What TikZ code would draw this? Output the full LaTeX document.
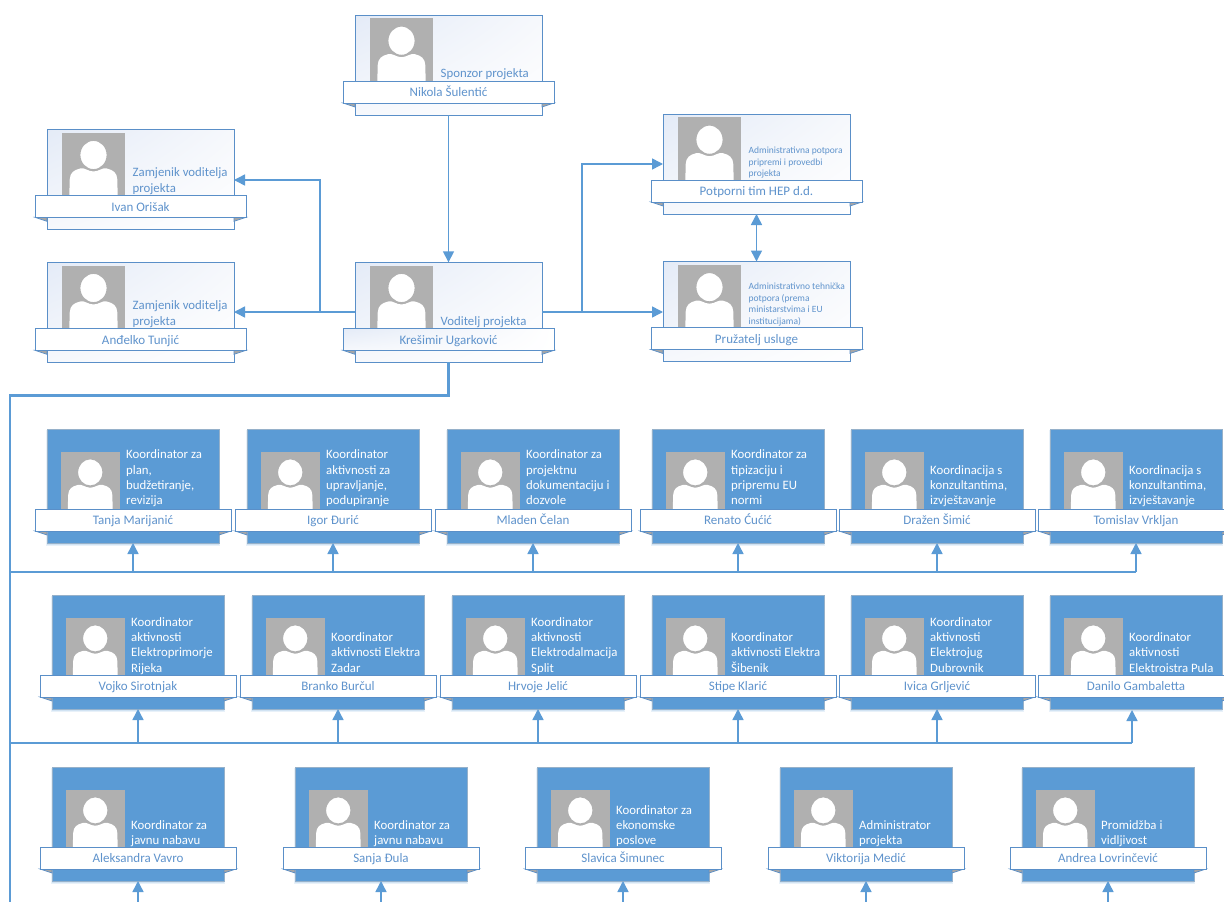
\documentclass[tikz,border=0pt]{standalone}
\usepackage{fontspec}
\setmainfont{Carlito}
\usetikzlibrary{arrows.meta,shadings}
\definecolor{hb}{HTML}{5B9BD5}
\definecolor{hbd}{HTML}{5A8FC8}
\definecolor{hbt}{HTML}{5F93CC}
\definecolor{gimg}{HTML}{B0B0B0}
\definecolor{hbl}{HTML}{E4EBF7}
\definecolor{hbm}{HTML}{F6F8FC}
\tikzset{
  x=1pt,y=-1pt,
  whitebox/.style={draw=hbd,line width=1pt,upper left=hbl,upper right=hbm,lower left=hbm,lower right=white,minimum width=187pt,minimum height=100pt,anchor=north west,inner sep=0pt,outer sep=0pt},
  bluebox/.style={draw=hb!60!gray!70,fill=hb,line width=0.8pt,minimum width=172pt,minimum height=114pt,anchor=north west,inner sep=0pt,outer sep=0pt},
  ribshade/.style={},
  ribbon/.style={draw=hbd,fill=white,ribshade,line width=1pt,minimum height=22pt,anchor=north west,inner sep=0pt,outer sep=0pt,text=hbt,font=\fontsize{13}{14}\selectfont,text height=9.5pt,text depth=0.5pt},
  capt/.style={anchor=south west,inner sep=0pt,align=left},
  capw/.style={capt,text=hbt},
  capb/.style={capt,text=white,font=\normfont},
  conn/.style={draw=hb,line width=1.5pt},
  busline/.style={draw=hb,line width=1.8pt},
  trunkline/.style={draw=hb,line width=2.4pt},
  arr/.style={conn,-{Triangle[length=11pt,width=11pt]}},
  darr/.style={conn,{Triangle[length=11pt,width=11pt]}-{Triangle[length=11pt,width=11pt]}},
  tail/.style={draw=hbd,fill=gray!70,line width=0.7pt},
}
\newcommand{\normfont}{\fontsize{12.8}{15.4}\selectfont}
\newcommand{\smallfont}{\fontsize{9.5}{11.5}\selectfont}
\newcommand{\lastdepth}{\rule[-4pt]{0pt}{4pt}}
\newcommand{\silhouette}[3]{%
  \pgfmathsetmacro{\pS}{#3/63}
  \begin{scope}[shift={(#1,#2)},x=\pS pt,y=-\pS pt]
    \fill[gimg] (0,0) rectangle (63,64);
    \fill[white] (7.3,64) -- (7.7,47) .. controls (8,40) and (12,37.5) .. (18,36)
      .. controls (23,34.8) and (26,39) .. (31.5,39)
      .. controls (37,39) and (40,34.8) .. (45,36)
      .. controls (51,37.5) and (55,40) .. (55.3,47) -- (55.7,64) -- cycle;
    \draw[gimg,fill=white,line width=1.4pt] (31.5,22.5) ellipse [x radius=13.8,y radius=14.8];
  \end{scope}}
% id, x, y, font, lines, name
\newcommand{\wcard}[6]{%
  \begin{scope}[shift={(#2,#3)}]
    \node[whitebox] (#1) at (0,0) {};
    \silhouette{15}{3.2}{63}
    \node[capw,font=#4] (#1t) at (85.5,67) {#5\lastdepth};
    \draw[tail] (-12,88) -- (0,92) -- (0,88) -- cycle;
    \draw[tail] (199,88) -- (187,92) -- (187,88) -- cycle;
    \node[ribbon,minimum width=211pt] (#1r) at (-12,66.3) {#6};
  \end{scope}}
% id, x, y, gap, lines, name
\newcommand{\bcard}[6]{%
  \begin{scope}[shift={(#2,#3)}]
    \fill[hb!14] (-1,1) rectangle (173,117);
    \fill[hb!28] (0,1) rectangle (172,115.5);
    \node[bluebox] (#1) at (0,0) {};
    \silhouette{14}{22.5}{58.5}
    \node[capb] (#1t) at (79,#4) {#5\lastdepth};
    \draw[tail] (-12,102) -- (0,106) -- (0,102) -- cycle;
    \draw[tail] (184,102) -- (172,106) -- (172,102) -- cycle;
    \node[ribbon,minimum width=196pt] (#1r) at (-12,80) {#6};
  \end{scope}}
\begin{document}
\begin{tikzpicture}
\useasboundingbox (0,0) rectangle (1224,902);
\clip (0,0) rectangle (1224,902);
\fill[white] (0,0) rectangle (1224,902);
% connector anchors
\coordinate (trunk) at (10,395.5);
\coordinate (trunkend) at (10,902);
\coordinate (busa) at (10,572);
\coordinate (busb) at (10,743);
\coordinate (busc) at (10,902);
\coordinate (lft) at (320,312);
\coordinate (rgt) at (582,312);
\coordinate (lfu) at (320,180);
\coordinate (rgu) at (582,164);
% cards
\wcard{sponsor}{355}{15}{\normfont}{Sponzor projekta}{Nikola Šulentić}
\wcard{zam}{47}{129.3}{\normfont}{Zamjenik voditelja\\projekta}{Ivan Orišak}
\wcard{tun}{47}{262.3}{\normfont}{Zamjenik voditelja\\projekta}{Anđelko Tunjić}
\begin{scope}[ribshade/.style={upper left=hbl,upper right=white,lower left=hbm,lower right=white}]
\wcard{vod}{355}{262.3}{\normfont}{Voditelj projekta}{Krešimir Ugarković}
\end{scope}
\wcard{hep}{663}{114}{\smallfont}{Administrativna potpora\\pripremi i provedbi\\projekta}{Potporni tim HEP d.d.}
\wcard{pru}{663}{261.5}{\smallfont}{Administrativno tehnička\\potpora (prema\\ministarstvima i EU\\institucijama)}{Pružatelj usluge}
% row 1
\bcard{a}{47}{429}{80}{Koordinator za\\plan,\\budžetiranje,\\revizija}{Tanja Marijanić}
\bcard{b}{247}{429}{80}{Koordinator\\aktivnosti za\\upravljanje,\\podupiranje}{Igor Đurić}
\bcard{c}{447}{429}{80}{Koordinator za\\projektnu\\dokumentaciju i\\dozvole}{Mladen Čelan}
\bcard{d}{652}{429}{80}{Koordinator za\\tipizaciju i\\pripremu EU\\normi}{Renato Ćućić}
\bcard{e}{851}{429}{80}{Koordinacija s\\konzultantima,\\izvještavanje}{Dražen Šimić}
\bcard{f}{1050}{429}{80}{Koordinacija s\\konzultantima,\\izvještavanje}{Tomislav Vrkljan}
% row 2
\bcard{g}{52}{595}{81.5}{Koordinator\\aktivnosti\\Elektroprimorje\\Rijeka}{Vojko Sirotnjak}
\bcard{h}{252}{595}{81.5}{Koordinator\\aktivnosti Elektra\\Zadar}{Branko Burčul}
\bcard{i}{452}{595}{81.5}{Koordinator\\aktivnosti\\Elektrodalmacija\\Split}{Hrvoje Jelić}
\bcard{j}{652}{595}{81.5}{Koordinator\\aktivnosti Elektra\\Šibenik}{Stipe Klarić}
\bcard{k}{851}{595}{81.5}{Koordinator\\aktivnosti\\Elektrojug\\Dubrovnik}{Ivica Grljević}
\bcard{l}{1050}{595}{81.5}{Koordinator\\aktivnosti\\Elektroistra Pula}{Danilo Gambaletta}
% row 3
\bcard{m}{52}{767}{82}{Koordinator za\\javnu nabavu}{Aleksandra Vavro}
\bcard{n}{295}{767}{82}{Koordinator za\\javnu nabavu}{Sanja Đula}
\bcard{o}{537}{767}{82}{Koordinator za\\ekonomske\\poslove}{Slavica Šimunec}
\bcard{p}{780}{767}{82}{Administrator\\projekta}{Viktorija Medić}
\bcard{q}{1022}{767}{82}{Promidžba i\\vidljivost}{Andrea Lovrinčević}
% connectors top
\draw[arr] (sponsor.south) -- (vod.north);
\draw[arr] (vod.west |- lft) -- (tun.east |- lft);
\draw[arr] (lft) -- (lfu) -- (zam.east |- lfu);
\draw[arr] (vod.east |- rgt) -- (pru.west |- rgt);
\draw[arr] (rgt) -- (rgu) -- (hep.west |- rgu);
\draw[darr] (hep.south) -- (pru.north);
% trunk
\draw[trunkline] (vod.south) -- (vod.south |- trunk) -- (trunk) -- (trunkend);
\coordinate (lastb) at (1132,710);
\draw[busline] (busa) -- (f.south |- busa);
\draw[busline] (busb) -- (lastb |- busb);
\foreach \n in {a,b,c,d,e,f}{\draw[arr] (\n.south |- busa) -- (\n.south);}
\foreach \n in {g,h,i,j,k}{\draw[arr] (\n.south |- busb) -- (\n.south);}
\draw[arr] (lastb |- busb) -- (lastb);
\foreach \n in {m,n,o,p,q}{\draw[arr] (\n.south |- busc) -- (\n.south);}
\end{tikzpicture}
\end{document}
